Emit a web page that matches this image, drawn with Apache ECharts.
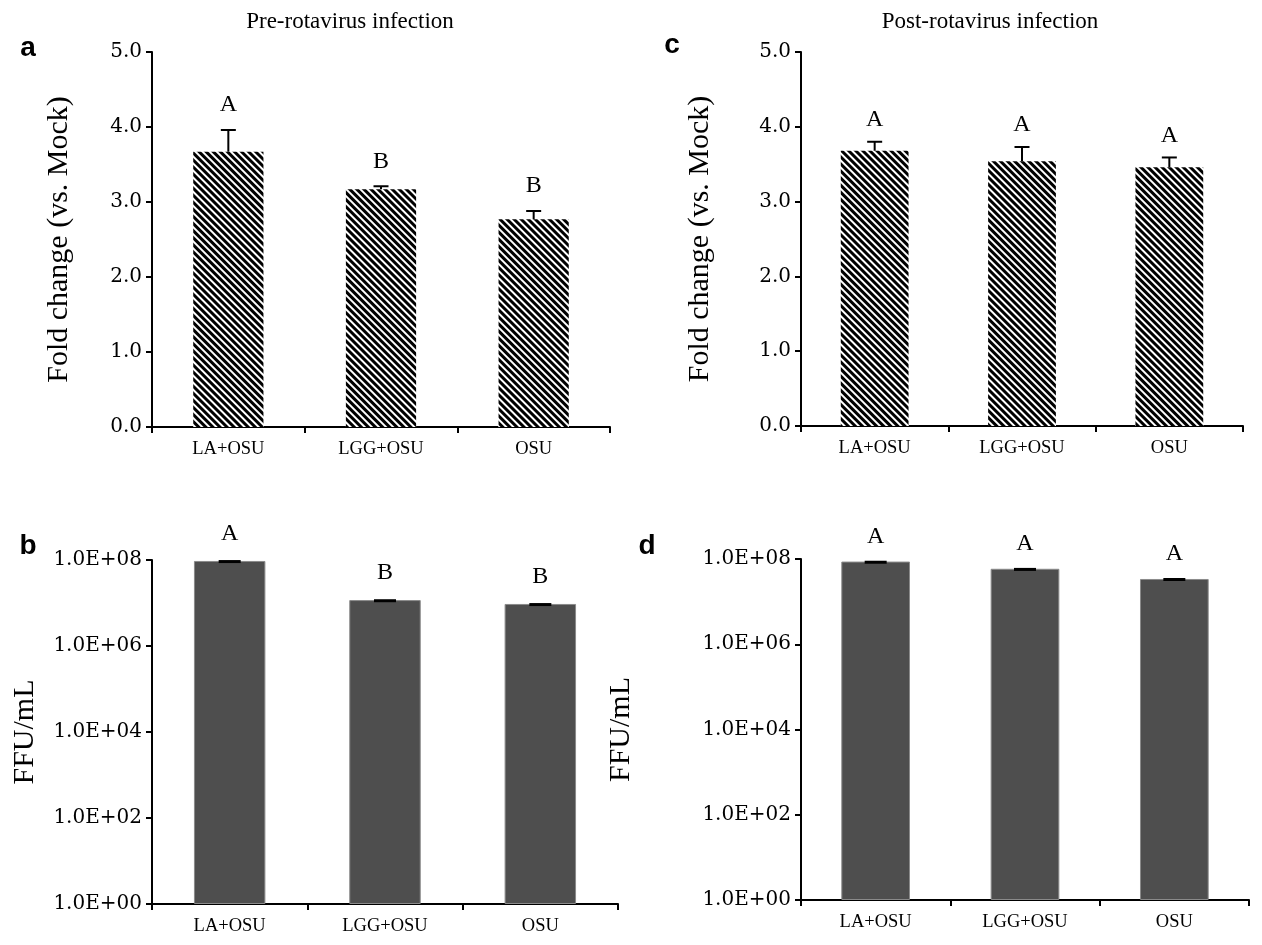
<!DOCTYPE html>
<html><head><meta charset="utf-8">
<script src="https://cdn.jsdelivr.net/npm/echarts@6/dist/echarts.min.js"></script>
<style>html,body{margin:0;padding:0;background:#fff}#c{width:1262px;height:945px}</style>
</head><body><div id="c"></div>
<script>
// ---- data ----
const categories = ['LA+OSU', 'LGG+OSU', 'OSU'];
const preFold = [3.67, 3.17, 2.77];
const preFoldErr = [3.96, 3.21, 2.88];
const preFoldLetters = ['A', 'B', 'B'];
const postFold = [3.68, 3.54, 3.46];
const postFoldErr = [3.80, 3.73, 3.59];
const postFoldLetters = ['A', 'A', 'A'];
const preFFU = [9.5e7, 1.17e7, 9.5e6];
const preFFUErr = [9.2e7, 1.13e7, 9.2e6];
const preFFULetters = ['A', 'B', 'B'];
const postFFU = [8.7e7, 5.9e7, 3.4e7];
const postFFUErr = [8.4e7, 5.7e7, 3.3e7];
const postFFULetters = ['A', 'A', 'A'];
const foldTickValues = [0, 1, 2, 3, 4, 5];
const ffuTickValues = [1, 1e2, 1e4, 1e6, 1e8];
const ffuTickLabels = ['1.0E+00', '1.0E+02', '1.0E+04', '1.0E+06', '1.0E+08'];

// ---- styles ----
const SERIF = '"Liberation Serif", "Times New Roman", serif';
const WSERIF = '"DejaVu Serif", serif';
const axisLine = { show: true, lineStyle: { color: '#000', width: 2 } };
const axisTick = { show: true, inside: false, length: 6, lineStyle: { color: '#000', width: 2 } };

const hatch = {
  symbol: 'rect', symbolSize: 1, color: '#000', backgroundColor: '#fff',
  dashArrayX: [1, 0], dashArrayY: [2.1, 2], rotation: Math.PI / 4
};

function xAx(gi) {
  return {
    type: 'category', gridIndex: gi, data: categories,
    axisLine, axisTick: Object.assign({ alignWithLabel: false }, axisTick),
    axisLabel: { color: '#000', fontFamily: SERIF, fontSize: 18.5, margin: 13 },
    splitLine: { show: false }
  };
}
function foldY(gi, gap) {
  return {
    type: 'value', gridIndex: gi, min: 0, max: 5, interval: 1,
    name: 'Fold change (vs. Mock)', nameLocation: 'middle', nameGap: gap,
    nameTextStyle: { color: '#000', fontFamily: SERIF, fontSize: 30 },
    axisLine, axisTick,
    axisLabel: { color: '#000', fontFamily: WSERIF, fontSize: 20, margin: 10,
      formatter: v => v.toFixed(1) },
    splitLine: { show: false }
  };
}
function ffuY(gi, gap) {
  return {
    type: 'log', logBase: 10, gridIndex: gi, min: 1, max: 1e8,
    name: 'FFU/mL', nameLocation: 'middle', nameGap: gap,
    nameTextStyle: { color: '#000', fontFamily: SERIF, fontSize: 30 },
    axisLine,
    axisTick: Object.assign({ customValues: ffuTickValues }, axisTick),
    axisLabel: { color: '#000', fontFamily: WSERIF, fontSize: 20, margin: 10,
      customValues: ffuTickValues,
      formatter: v => ffuTickLabels[ffuTickValues.indexOf(v)] || '' },
    splitLine: { show: false }
  };
}

function errRender(letters, capW, gap, showStem) {
  return function (params, api) {
    const i = api.value(0);
    const base = api.coord([i, api.value(1)]);
    const top = api.coord([i, api.value(2)]);
    const x = top[0];
    const children = [];
    if (showStem) {
      children.push({ type: 'line', shape: { x1: x, y1: base[1], x2: x, y2: top[1] },
        style: { stroke: '#000', lineWidth: 2 } });
    }
    children.push({ type: 'line', shape: { x1: x - capW / 2, y1: top[1], x2: x + capW / 2, y2: top[1] },
      style: { stroke: '#000', lineWidth: showStem ? 2 : 3 } });
    const ly = Math.min(top[1], base[1]) - gap;
    children.push({ type: 'text', x: x, y: ly,
      style: { text: letters[i], fill: '#000', font: '24px ' + SERIF, align: 'center', verticalAlign: 'middle' } });
    return { type: 'group', children };
  };
}

function barSeries(gi, vals, hatched) {
  return {
    type: 'bar', xAxisIndex: gi, yAxisIndex: gi, data: vals, barWidth: '46%',
    itemStyle: hatched
      ? { color: '#fff', decal: hatch }
      : { color: '#4e4e4e', borderColor: '#8a8a8a', borderWidth: 1 },
    z: 2
  };
}
function errSeries(gi, vals, errs, letters, capW, gap, stem) {
  return {
    type: 'custom', xAxisIndex: gi, yAxisIndex: gi,
    data: vals.map((v, i) => [i, v, errs[i]]),
    renderItem: errRender(letters, capW, gap, stem),
    encode: { x: 0, y: [1, 2] }, z: 5, clip: false
  };
}

const chart = echarts.init(document.getElementById('c'), null, { renderer: 'canvas' });
chart.setOption({
  backgroundColor: '#fff',
  animation: false,
  grid: [
    { left: 152, top: 52, width: 458, height: 375 },
    { left: 152, top: 560, width: 466, height: 344 },
    { left: 801, top: 52, width: 442, height: 374 },
    { left: 801, top: 559, width: 448, height: 341 }
  ],
  xAxis: [xAx(0), xAx(1), xAx(2), xAx(3)],
  yAxis: [foldY(0, 78), ffuY(1, 112), foldY(2, 86), ffuY(3, 165)],
  series: [
    barSeries(0, preFold, true),
    errSeries(0, preFold, preFoldErr, preFoldLetters, 15, 25, true),
    barSeries(1, preFFU, false),
    errSeries(1, preFFU, preFFUErr, preFFULetters, 22, 27, false),
    barSeries(2, postFold, true),
    errSeries(2, postFold, postFoldErr, postFoldLetters, 15, 22, true),
    barSeries(3, postFFU, false),
    errSeries(3, postFFU, postFFUErr, postFFULetters, 22, 25, false)
  ],
  graphic: [
    { type: 'text', x: 350, y: 22, style: { text: 'Pre-rotavirus infection', fill: '#000', font: '23px ' + SERIF, align: 'center', verticalAlign: 'middle' } },
    { type: 'text', x: 990, y: 22, style: { text: 'Post-rotavirus infection', fill: '#000', font: '23px ' + SERIF, align: 'center', verticalAlign: 'middle' } },
    { type: 'text', x: 28, y: 48, style: { text: 'a', fill: '#000', font: 'bold 28px "Liberation Sans", Arial, sans-serif', align: 'center', verticalAlign: 'middle' } },
    { type: 'text', x: 672, y: 45, style: { text: 'c', fill: '#000', font: 'bold 28px "Liberation Sans", Arial, sans-serif', align: 'center', verticalAlign: 'middle' } },
    { type: 'text', x: 28, y: 546, style: { text: 'b', fill: '#000', font: 'bold 28px "Liberation Sans", Arial, sans-serif', align: 'center', verticalAlign: 'middle' } },
    { type: 'text', x: 647, y: 546, style: { text: 'd', fill: '#000', font: 'bold 28px "Liberation Sans", Arial, sans-serif', align: 'center', verticalAlign: 'middle' } }
  ]
});
</script>
</body></html>
